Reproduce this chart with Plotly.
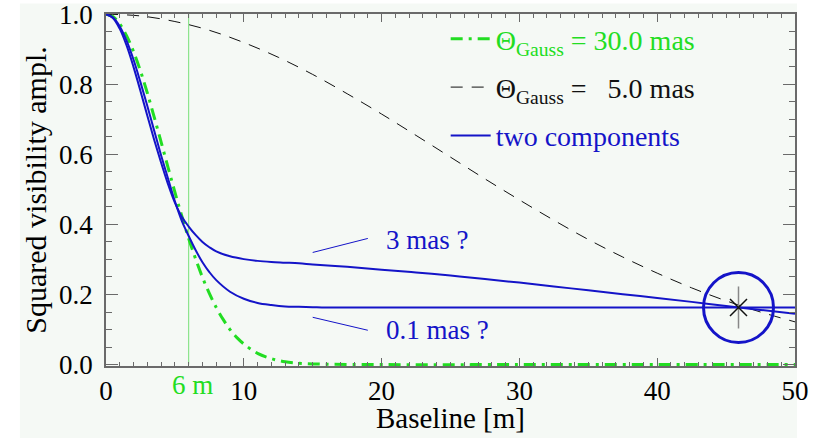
import plotly.graph_objects as go

# ---- data ----
baseline_green = [0, 0.5, 1, 1.5, 2, 2.5, 3, 3.5, 4, 4.5, 5, 5.5, 6, 6.5, 7, 7.5, 8, 8.5,
                  9, 9.5, 10, 11, 12, 13, 14, 15, 16, 20, 30, 40, 50]
vis_gauss30 = [1.0, 0.993, 0.972, 0.938, 0.893, 0.838, 0.775, 0.706, 0.635, 0.563, 0.492,
               0.424, 0.360, 0.302, 0.249, 0.203, 0.163, 0.129, 0.100, 0.077, 0.059, 0.032,
               0.017, 0.008, 0.004, 0.002, 0.001, 0.0, 0.0, 0.0, 0.0]

baseline_black = [0, 2.5, 5, 7.5, 10, 12.5, 15, 17.5, 20, 22.5, 25, 27.5, 30, 32.5, 35,
                  37.5, 40, 42.5, 45, 47.5, 50]
vis_gauss5 = [1.0, 0.995, 0.979, 0.954, 0.919, 0.877, 0.828, 0.773, 0.715, 0.654, 0.592,
              0.530, 0.470, 0.412, 0.357, 0.307, 0.261, 0.219, 0.182, 0.150, 0.122]

baseline_low = [0, 0.5, 1, 1.5, 2, 2.5, 3, 3.5, 4, 4.5, 5, 5.5, 6, 6.5, 7, 7.5, 8, 9, 10,
                11, 12, 13, 14, 15, 16, 20, 25, 30, 35, 40, 45, 50]
vis_two_01mas = [1.0, 0.991, 0.965, 0.924, 0.870, 0.806, 0.738, 0.667, 0.597, 0.531, 0.466,
                 0.410, 0.367, 0.327, 0.292, 0.264, 0.241, 0.208, 0.188, 0.176, 0.170, 0.166,
                 0.165, 0.164, 0.163, 0.163, 0.163, 0.163, 0.163, 0.163, 0.163, 0.163]

baseline_up = [0, 0.5, 1, 1.5, 2, 2.5, 3, 3.5, 4, 4.5, 5, 5.5, 6, 6.5, 7, 7.5, 8, 9, 10,
               11, 12, 13, 14, 15, 17.5, 20, 22.5, 25, 27.5, 30, 32.5, 35, 37.5, 40, 42.5,
               45, 47.5, 50]
vis_two_3mas = [1.0, 0.989, 0.958, 0.910, 0.849, 0.781, 0.710, 0.641, 0.576, 0.515, 0.462,
                0.422, 0.394, 0.370, 0.350, 0.335, 0.323, 0.309, 0.301, 0.296, 0.293, 0.291,
                0.289, 0.286, 0.279, 0.271, 0.263, 0.254, 0.244, 0.234, 0.223, 0.212, 0.201,
                0.190, 0.179, 0.167, 0.156, 0.145]

marker_x = [6, 6]
marker_y = [0, 1]
star_x = [45.9]
star_y = [0.163]

x_ticks = [0, 10, 20, 30, 40, 50]
y_ticks = [0.0, 0.2, 0.4, 0.6, 0.8, 1.0]

GREEN = "#22dd22"
BLUE = "#1414c8"
BLACK = "#111111"
BG = "#f5f9f5"
FONT = "Liberation Serif, Times New Roman, serif"

fig = go.Figure()

fig.add_trace(go.Scatter(x=marker_x, y=marker_y, mode="lines",
                         line=dict(color="#77e077", width=1), showlegend=False,
                         hoverinfo="skip"))

fig.add_trace(go.Scatter(
    x=baseline_green, y=vis_gauss30, mode="lines", line_shape="spline",
    line=dict(color=GREEN, width=3, dash="12px,6px,3px,6px"),
    name=f"<span style='color:{GREEN}'>Θ<sub>Gauss</sub> = 30.0 mas</span>",
    legendgroup="a"))
fig.add_trace(go.Scatter(
    x=baseline_black, y=vis_gauss5, mode="lines", line_shape="spline",
    line=dict(color=BLACK, width=1, dash="12px,9px"),
    name=f"<span style='color:{BLACK}'>Θ<sub>Gauss</sub> = \u00a0\u00a05.0 mas</span>",
    legendgroup="b"))
fig.add_trace(go.Scatter(
    x=baseline_up, y=vis_two_3mas, mode="lines", line_shape="spline",
    line=dict(color=BLUE, width=2),
    name=f"<span style='color:{BLUE}'>two components</span>",
    legendgroup="c"))
fig.add_trace(go.Scatter(
    x=baseline_low, y=vis_two_01mas, mode="lines", line_shape="spline",
    line=dict(color=BLUE, width=2), showlegend=False))

# star + circle (open symbols are stroked with marker.color)
fig.add_trace(go.Scatter(x=star_x, y=star_y, mode="markers", showlegend=False,
                         marker=dict(symbol="line-ns-open", size=30, color="#888888",
                                     line=dict(width=1.5))))
fig.add_trace(go.Scatter(x=star_x, y=star_y, mode="markers", showlegend=False,
                         marker=dict(symbol="x-thin-open", size=17, color=BLACK,
                                     line=dict(width=1.5))))
fig.add_trace(go.Scatter(x=star_x, y=star_y, mode="markers", showlegend=False,
                         marker=dict(symbol="circle-open", size=70, color=BLUE,
                                     line=dict(width=3))))

# leader lines for labels
fig.add_shape(type="line", x0=15.0, y0=0.320, x1=19.0, y1=0.360,
              line=dict(color=BLUE, width=1))
fig.add_shape(type="line", x0=15.0, y0=0.135, x1=19.0, y1=0.098,
              line=dict(color=BLUE, width=1))
fig.add_annotation(x=20.2, y=0.355, text="3 mas ?", showarrow=False, xanchor="left",
                   font=dict(family=FONT, size=27, color=BLUE))
fig.add_annotation(x=20.2, y=0.099, text="0.1 mas ?", showarrow=False, xanchor="left",
                   font=dict(family=FONT, size=27, color=BLUE))
fig.add_annotation(x=6, y=-0.054, yref="paper", yanchor="middle", xshift=4,
                   text="6 m", showarrow=False,
                   font=dict(family=FONT, size=27, color=GREEN))
fig.add_annotation(x=0.5, y=-0.148, xref="paper", yref="paper", yanchor="middle",
                   text="Baseline [m]", showarrow=False,
                   font=dict(family=FONT, size=29, color="black"))

# pale backdrop
fig.add_shape(type="rect", xref="paper", yref="paper", x0=-0.125, x1=1.003,
              y0=-0.215, y1=1.03, fillcolor=BG, line=dict(width=0), layer="below")

axis_common = dict(showgrid=False, zeroline=False, showline=True, linecolor="#6a6a6a",
                   linewidth=1.5, mirror="allticks", ticks="inside", tickcolor="#6a6a6a",
                   ticklabeloverflow="allow", automargin=False,
                   tickfont=dict(family=FONT, size=27, color="black"))

fig.update_xaxes(range=[0, 50], tickvals=x_ticks, ticklen=8, tickwidth=1.2,
                 minor=dict(dtick=1, ticklen=4, ticks="inside", tickcolor="#6a6a6a"),
                 ticklabelstandoff=0, **axis_common)
fig.update_yaxes(range=[-0.004, 1.0005], tickvals=y_ticks, tickformat=".1f", ticklen=12,
                 tickwidth=1.2,
                 minor=dict(dtick=0.05, ticklen=6, ticks="inside", tickcolor="#6a6a6a"),
                 title=dict(text="Squared visibility ampl.",
                            font=dict(family=FONT, size=30, color="black"), standoff=4),
                 ticklabelstandoff=6, **axis_common)

fig.update_layout(
    width=816, height=438,
    margin=dict(l=106, r=21, t=14, b=72, autoexpand=False),
    paper_bgcolor="white", plot_bgcolor=BG,
    font=dict(family=FONT, size=26, color="black"),
    showlegend=True,
    legend=dict(x=0.493, y=1.0, xanchor="left", yanchor="top",
                bgcolor="rgba(0,0,0,0)", traceorder="grouped", tracegroupgap=9,
                font=dict(family=FONT, size=28), itemwidth=40),
)

fig.write_html("out.html")
